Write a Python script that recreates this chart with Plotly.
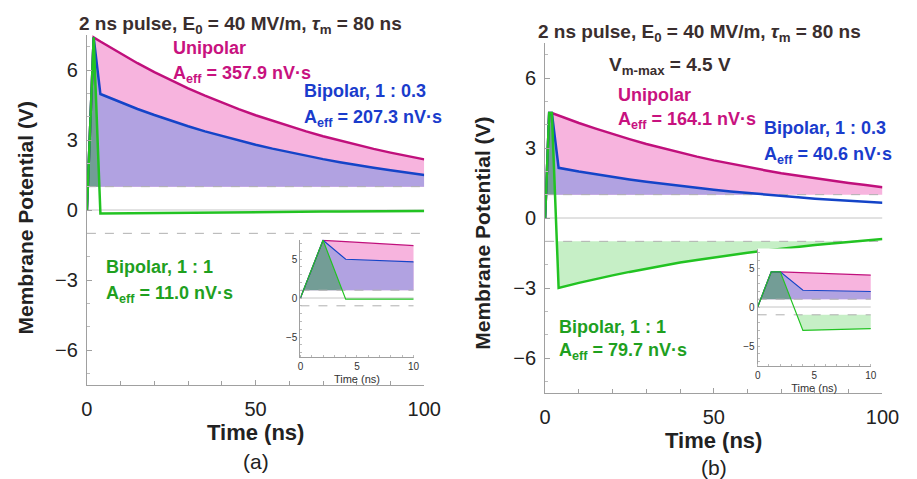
import plotly.graph_objects as go

W, H = 917, 479

# ---------------- data ----------------
# Panel (a): time (ns) and membrane potential (V)
T_A = [0, 2, 4, 10, 15, 20, 25, 30, 35, 40, 45, 50, 55, 60, 65, 70, 75, 80, 85, 90, 95, 100]
UNI_A = [0, 7.4, 7.22, 6.70, 6.29, 5.91, 5.55, 5.21, 4.90, 4.60, 4.32, 4.06, 3.82, 3.58, 3.37,
         3.16, 2.97, 2.79, 2.62, 2.46, 2.31, 2.17]
BI03_A = [0, 7.4, 4.97, 4.61, 4.33, 4.07, 3.82, 3.59, 3.37, 3.17, 2.98, 2.80, 2.63, 2.47, 2.32,
          2.18, 2.05, 1.92, 1.81, 1.70, 1.59, 1.50]
BI11_A = [0, 7.4, -0.15, -0.14, -0.13, -0.12, -0.115, -0.11, -0.10, -0.095, -0.09, -0.085, -0.08,
          -0.075, -0.07, -0.066, -0.062, -0.058, -0.055, -0.051, -0.048, -0.045]

# Panel (b): saturation at V_m-max = 4.5 V
T_B = [0, 1.2, 2, 4, 10, 15, 20, 25, 30, 35, 40, 45, 50, 55, 60, 65, 70, 75, 80, 85, 90, 95, 100]
UNI_B = [0, 4.5, 4.5, 4.39, 4.07, 3.83, 3.59, 3.38, 3.17, 2.98, 2.80, 2.63, 2.47, 2.32, 2.18,
         2.05, 1.92, 1.81, 1.70, 1.59, 1.50, 1.41, 1.32]
BI03_B = [0, 4.5, 4.5, 2.15, 1.99, 1.87, 1.76, 1.65, 1.55, 1.46, 1.37, 1.29, 1.21, 1.14, 1.07,
          1.00, 0.94, 0.885, 0.83, 0.78, 0.73, 0.69, 0.65]
BI11_B = [0, 4.5, 4.5, -3.0, -2.78, -2.61, -2.46, -2.31, -2.17, -2.04, -1.91, -1.80, -1.69, -1.59,
          -1.49, -1.40, -1.31, -1.24, -1.16, -1.09, -1.02, -0.96, -0.90]

THRESH = 1.0
MAIN_XTICKS = [0, 50, 100]
MAIN_YTICKS = [-6, -3, 0, 3, 6]
INSET_XTICKS = [0, 5, 10]
INSET_YTICKS = [-5, 0, 5]

TITLE = "2 ns pulse, E<sub>0</sub> = 40 MV/m, <i>τ</i><sub>m</sub> = 80 ns"
LABELS_A = [("Unipolar", "A<sub>eff</sub> = 357.9 nV·s"),
            ("Bipolar, 1 : 0.3", "A<sub>eff</sub> = 207.3 nV·s"),
            ("Bipolar, 1 : 1", "A<sub>eff</sub> = 11.0 nV·s")]
LABELS_B = [("Unipolar", "A<sub>eff</sub> = 164.1 nV·s"),
            ("Bipolar, 1 : 0.3", "A<sub>eff</sub> = 40.6 nV·s"),
            ("Bipolar, 1 : 1", "A<sub>eff</sub> = 79.7 nV·s")]
VMAX_TEXT = "V<sub>m-max</sub> = 4.5 V"

# ---------------- style ----------------
C_UNI = "#c0107c"
C_BLUE = "#1444c8"
C_GREEN = "#22c322"
C_UNI_TXT = "#c8127f"
C_BLUE_TXT = "#1a3ccc"
C_GREEN_TXT = "#1fa01f"
F_PINK = "#f7b4de"
F_LAV = "#b1a2e1"
F_GREEN_OVER = "rgba(40,150,60,0.45)"
F_GREEN_LOW = "#c6efc6"
DARK = "#3a2e2e"
AXC = "#a0a0a0"
FONT = "Liberation Sans, Arial, sans-serif"


def px(x):
    return x / W


def py(y):
    return 1 - y / H


def clip_poly(t, v, thr, above=True):
    """Polygon between curve and threshold, where curve is beyond threshold."""
    pts = []
    s = 1 if above else -1
    for i in range(len(t)):
        if i > 0:
            a, b = (v[i - 1] - thr) * s, (v[i] - thr) * s
            if (a > 0) != (b > 0) and a != b:
                f = a / (a - b)
                pts.append((t[i - 1] + f * (t[i] - t[i - 1]), thr))
        if (v[i] - thr) * s >= 0:
            pts.append((t[i], v[i]))
    if not pts:
        return [], []
    xs = [p[0] for p in pts]
    ys = [p[1] for p in pts]
    xs = [xs[0]] + xs + [xs[-1], xs[0]]
    ys = [thr] + ys + [thr, thr]
    return xs, ys


fig = go.Figure()


def add_panel(T, UNI, B03, B11, xa, ya, lw, green_low):
    # fills
    x, y = clip_poly(T, UNI, THRESH)
    fig.add_trace(go.Scatter(x=x, y=y, fill="toself", fillcolor=F_PINK, mode="none",
                             xaxis=xa, yaxis=ya, hoverinfo="skip"))
    x, y = clip_poly(T, B03, THRESH)
    fig.add_trace(go.Scatter(x=x, y=y, fill="toself", fillcolor=F_LAV, mode="none",
                             xaxis=xa, yaxis=ya, hoverinfo="skip"))
    x, y = clip_poly(T, B11, THRESH)
    fig.add_trace(go.Scatter(x=x, y=y, fill="toself", fillcolor=F_GREEN_OVER, mode="none",
                             xaxis=xa, yaxis=ya, hoverinfo="skip"))
    if green_low:
        x, y = clip_poly(T, B11, -THRESH, above=False)
        fig.add_trace(go.Scatter(x=x, y=y, fill="toself", fillcolor=F_GREEN_LOW, mode="none",
                                 xaxis=xa, yaxis=ya, hoverinfo="skip"))
    # reference lines
    xr = [T[0], T[-1]]
    fig.add_trace(go.Scatter(x=xr, y=[0, 0], mode="lines", line=dict(color="#c4c4c4", width=1),
                             xaxis=xa, yaxis=ya, hoverinfo="skip"))
    for thr in (THRESH, -THRESH):
        fig.add_trace(go.Scatter(x=xr, y=[thr, thr], mode="lines",
                                 line=dict(color="#b0b0b0", width=1, dash="dash"),
                                 xaxis=xa, yaxis=ya, hoverinfo="skip"))
    # curves
    fig.add_trace(go.Scatter(x=T, y=UNI, mode="lines", line=dict(color=C_UNI, width=lw),
                             xaxis=xa, yaxis=ya))
    fig.add_trace(go.Scatter(x=T, y=B03, mode="lines", line=dict(color=C_BLUE, width=lw),
                             xaxis=xa, yaxis=ya))
    fig.add_trace(go.Scatter(x=T, y=B11, mode="lines", line=dict(color=C_GREEN, width=lw),
                             xaxis=xa, yaxis=ya))


add_panel(T_A, UNI_A, BI03_A, BI11_A, "x", "y", 2.5, False)
add_panel(T_B, UNI_B, BI03_B, BI11_B, "x2", "y2", 2.5, True)
add_panel(T_A, UNI_A, BI03_A, BI11_A, "x3", "y3", 1.2, False)
add_panel(T_B, UNI_B, BI03_B, BI11_B, "x4", "y4", 1.2, True)


def main_x(dom, anchor):
    return dict(domain=dom, anchor=anchor, range=[0, 100], tickvals=MAIN_XTICKS,
                showline=True, linecolor=AXC, linewidth=1.2, showgrid=False, zeroline=False,
                ticks="inside", ticklen=5, tickcolor=AXC,
                minor=dict(dtick=10, ticks="inside", ticklen=4, tickcolor=AXC),
                tickfont=dict(family=FONT, size=20, color="#222"), ticklabelstandoff=6)


def main_y(dom, anchor):
    return dict(domain=dom, anchor=anchor, range=[-7.5, 7.5], tickvals=MAIN_YTICKS,
                showline=True, linecolor=AXC, linewidth=1.2, showgrid=False, zeroline=False,
                ticks="inside", ticklen=5, tickcolor=AXC,
                minor=dict(dtick=1, ticks="inside", ticklen=3, tickcolor="#bbb"),
                tickfont=dict(family=FONT, size=20, color="#222"), ticklabelstandoff=4)


def inset_x(dom, anchor):
    return dict(domain=dom, anchor=anchor, range=[0, 10], tickvals=INSET_XTICKS,
                showline=True, linecolor=AXC, linewidth=1, showgrid=False, zeroline=False,
                ticks="", minor=dict(dtick=1, ticks="inside", ticklen=2, tickcolor="#bbb"),
                tickfont=dict(family=FONT, size=10, color="#333"),
                title=dict(text="Time (ns)", font=dict(family=FONT, size=11, color="#333"),
                           standoff=4))


def inset_y(dom, anchor):
    return dict(domain=dom, anchor=anchor, range=[-7.5, 7.5], tickvals=INSET_YTICKS,
                showline=True, linecolor=AXC, linewidth=1, showgrid=False, zeroline=False,
                ticks="", minor=dict(dtick=1, ticks="inside", ticklen=2, tickcolor="#bbb"),
                tickfont=dict(family=FONT, size=10, color="#333"))


ann = []


def txt(x, y, s, color, size=18, bold=True, xanchor="left", yanchor="middle", angle=0):
    ann.append(dict(x=px(x), y=py(y), xref="paper", yref="paper", text=("<b>%s</b>" % s) if bold else s,
                    showarrow=False, xanchor=xanchor, yanchor=yanchor, textangle=angle,
                    font=dict(family=FONT, size=size, color=color)))


# panel (a) texts
txt(241, 25, TITLE, DARK, size=19, xanchor="center")
txt(169, 48, LABELS_A[0][0], C_UNI_TXT)
txt(169, 75, LABELS_A[0][1], C_UNI_TXT)
txt(304, 91, LABELS_A[1][0], C_BLUE_TXT)
txt(304, 118, LABELS_A[1][1], C_BLUE_TXT)
txt(101, 267, LABELS_A[2][0], C_GREEN_TXT)
txt(101, 294, LABELS_A[2][1], C_GREEN_TXT)
txt(20, 218, "Membrane Potential (V)", "#222", size=21, xanchor="center", angle=-90)
txt(256, 432, "Time (ns)", "#222", size=22, xanchor="center")
txt(256, 461, "(a)", "#222", size=21, xanchor="center", bold=False)

# panel (b) texts
txt(711, 33, TITLE, DARK, size=19, xanchor="center")
txt(616, 66, VMAX_TEXT, DARK, size=19)
txt(626, 95, LABELS_B[0][0], C_UNI_TXT)
txt(626, 121, LABELS_B[0][1], C_UNI_TXT)
txt(775, 128, LABELS_B[1][0], C_BLUE_TXT)
txt(775, 155, LABELS_B[1][1], C_BLUE_TXT)
txt(565, 327, LABELS_B[2][0], C_GREEN_TXT)
txt(565, 351, LABELS_B[2][1], C_GREEN_TXT)
txt(488, 233, "Membrane Potential (V)", "#222", size=21, xanchor="center", angle=-90)
txt(726, 440, "Time (ns)", "#222", size=22, xanchor="center")
txt(726, 467, "(b)", "#222", size=21, xanchor="center", bold=False)

fig.update_layout(
    width=W, height=H, margin=dict(l=0, r=0, t=0, b=0),
    paper_bgcolor="white", plot_bgcolor="white", showlegend=False,
    font=dict(family=FONT),
    xaxis=main_x([px(83), px(429)], "y"),
    yaxis=main_y([py(385), py(35)], "x"),
    xaxis2=main_x([px(553), px(899)], "y2"),
    yaxis2=main_y([py(393), py(43)], "x2"),
    xaxis3=inset_x([px(302), px(418)], "y3"),
    yaxis3=inset_y([py(356.5), py(239.5)], "x3"),
    xaxis4=inset_x([px(771), px(887)], "y4"),
    yaxis4=inset_y([py(365.5), py(248.5)], "x4"),
    annotations=ann,
)

fig.write_html("out.html")
